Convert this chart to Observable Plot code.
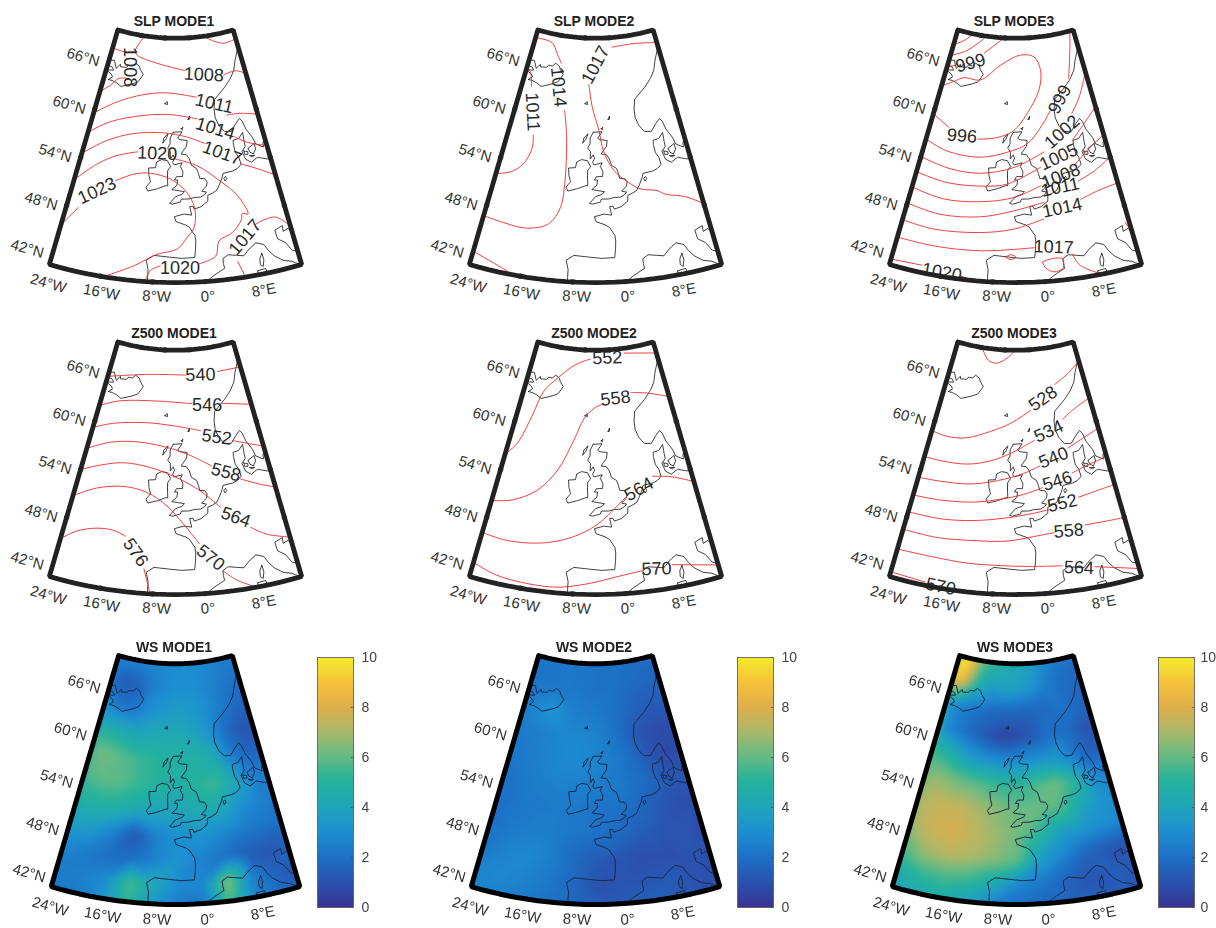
<!DOCTYPE html>
<html><head><meta charset="utf-8">
<script src="https://cdn.jsdelivr.net/npm/d3@7"></script>
<script src="https://cdn.jsdelivr.net/npm/@observablehq/plot@0.6"></script>
<style>
html,body{margin:0;padding:0;background:#fff;overflow:hidden;width:1216px;height:928px}
#root{position:relative;width:1216px;height:928px;overflow:hidden}
#root>div{position:absolute}
#root svg{display:block;overflow:visible;background:transparent;max-width:none!important}
.soft svg{filter:blur(.45px)}
</style></head><body><div id="root"></div>
<script>
// ---------- geography (lon, lat) ----------
const coastIceland=[[-22.7,63.85],[-21.5,63.85],[-20.3,63.7],[-19,63.4],[-17.5,63.7],[-16,64],[-14.8,64.3],[-14,64.9],[-13.6,65.3],[-14.6,65.8],[-15,66.2],[-16.2,66.5],[-17,66.1],[-18.2,66.1],[-18.6,65.8],[-20.3,65.7],[-20.5,66],[-21.4,65.4],[-22.5,66.3],[-23.3,66.2],[-24.5,65.6],[-22.5,65.4],[-22,65.1],[-24,64.9],[-22.4,64.6],[-21.8,64.3],[-22.7,63.85]];
const coastFaroe=[[-7.2,62],[-6.6,62.25],[-6.5,61.9],[-7.2,62]];
const coastShetland=[[-1.5,60.1],[-1.1,60.5],[-1.2,60.1],[-1.5,60.1]];
const coastOrkney=[[-3.2,59],[-2.8,59.2],[-2.9,58.9],[-3.2,59]];
const coastLewis=[[-7.3,57.3],[-7.1,57.9],[-6.2,58.4],[-6.6,57.8],[-7.3,57.3]];
const coastBritain=[[-5,58.6],[-3,58.65],[-4,57.9],[-3.5,57.7],[-1.9,57.6],[-2.1,56.9],[-2.8,56.4],[-3.3,56],[-2.2,55.9],[-1.6,55.4],[-1.2,54.6],[-0.2,54.2],[0.1,53.6],[0.3,53],[1.3,52.9],[1.7,52.5],[1.5,52],[0.9,51.7],[0.5,51.45],[1.4,51.3],[1,51],[0.2,50.75],[-1,50.75],[-2,50.6],[-3.4,50.6],[-3.6,50.25],[-5.1,50],[-5.6,50.1],[-4.5,50.9],[-3.2,51.2],[-2.8,51.5],[-3.8,51.6],[-5.2,51.75],[-4.2,52.3],[-4.1,52.9],[-4.7,52.9],[-4.3,53.3],[-3.1,53.3],[-3,53.9],[-3.5,54.5],[-3.1,54.95],[-4.8,54.7],[-5.1,55],[-4.7,55.5],[-5,55.9],[-5.6,55.4],[-5.6,56.3],[-6.2,56.7],[-5.7,57.2],[-5.7,57.9],[-5,58.6]];
const coastIreland=[[-6.1,53.3],[-6,52.2],[-6.4,52.2],[-8,51.8],[-9.8,51.45],[-10.2,51.9],[-9.4,52.6],[-9.8,53.3],[-10,54.2],[-8.6,54.3],[-8.4,55],[-7.4,55.3],[-6.2,55.2],[-5.5,54.5],[-6.1,54],[-6.1,53.3]];
const coastNorway=[[15.5,69],[14.5,67.5],[13,66.3],[12,65.2],[10.5,64.3],[8.5,63.4],[5.5,62.2],[5,61],[5,60],[5.6,59],[6.7,58.2],[8.2,58.1],[9.5,58.9],[10.6,59.4],[11.1,59],[11.5,58],[12.5,56.8],[12.8,56],[14.2,55.4],[14.4,56],[16,56.3]];
const coastAtlantic=[[16.5,54.5],[14.3,53.9],[12.5,54.4],[11,54],[10,54.5],[9.8,55],[9.6,55.5],[10.5,56],[10.5,56.6],[10.6,57.7],[9.5,57.1],[8.2,57],[8.1,56.5],[8.2,55.5],[8.7,54.9],[8.9,54],[8,53.6],[7,53.4],[5,53.3],[4.7,52.8],[4,52],[3.4,51.4],[2.5,51.1],[1.6,50.9],[1.5,50.2],[0.2,49.6],[-1.1,49.35],[-1.3,49.7],[-1.9,49.7],[-1.6,48.65],[-3,48.8],[-4.7,48.5],[-4.4,47.9],[-2.8,47.5],[-2.1,47.2],[-1.2,46.2],[-1.1,45.5],[-1.2,44.5],[-1.4,43.5],[-3.5,43.45],[-5.5,43.6],[-8,43.75],[-9.2,43.1],[-8.8,42],[-8.8,41],[-8.8,40]];
const coastFunen=[[10,55.5],[10.8,55.3],[10.7,55],[10,55.1],[10,55.5]];
const coastZealand=[[11,55.7],[12.5,56.1],[12.5,55.4],[11.8,54.9],[11.2,55.2],[11,55.7]];
const coastLolland=[[11,54.8],[12,54.7],[11.5,54.6],[11,54.8]];
const coastIjssel=[[5.2,52.4],[5.6,52.6],[5.4,52.9],[5,52.7],[5.2,52.4]];
const coastMed=[[-0.3,39.7],[0.6,40.7],[1.5,41.2],[3.2,41.9],[3.1,42.5],[3.1,43.1],[4,43.5],[5.3,43.3],[6.5,43.1],[7.5,43.8],[8.8,44.4],[10,44],[10.5,43.2],[11.2,42.4],[12.4,41.6],[13.7,41.2],[14.5,40.7],[15.5,40.1]];
const coastAdriatic=[[16,41.8],[14.2,42.5],[13.5,43.6],[12.4,44.3],[12.3,45.4],[13.7,45.7],[13.6,45],[14.5,45.2],[15,44.5],[16,43.5]];
const coastCorsica=[[9.4,43],[9.5,42.2],[9.2,41.4],[8.8,41.7],[8.9,42.4],[9.4,43]];
const coastSardinia=[[8.2,41],[9.5,41.1],[9.7,40],[9.5,39.2],[8.5,39],[8.2,41]];
const coasts=[coastIceland,coastFaroe,coastShetland,coastOrkney,coastLewis,coastBritain,coastIreland,coastNorway,coastAtlantic,coastFunen,coastZealand,coastLolland,coastIjssel,coastMed,coastAdriatic,coastCorsica,coastSardinia];

// ---------- contour segments and their inline labels [text, lon, lat, rotation] ----------
const slp1Lines=[
[[5.2,69.9],[8,69.2],[11,68.7],[14.9,68.85]],
[[-15.1,69.8],[-17,68],[-16.2,67.5],[-10.9,66.9],[-1.9,66]],
[[8.9,64.9],[12.4,65.1],[14.8,64.5]],
[[-24.1,67.7],[-19.5,67.6],[-17.4,67.9]],
[[-24.5,61.9],[-21.7,63.3],[-20,64.3],[-17.4,64.5]],
[[-24,59.5],[-19.1,61.5],[-12.7,62.9],[-6.7,63.3],[0.9,62.7]],
[[7.9,60.1],[10.9,60],[14.8,59.4]],
[[-24,57.1],[-19.7,59],[-12.2,60.4],[-5.7,60.7],[0.7,60.1]],
[[8.6,57.4],[11.2,56.4],[14.8,55.5]],
[[-24,54.5],[-19.6,56.7],[-14,58.1],[-7.2,58.5],[-1.9,58],[1.9,57.1]],
[[8.8,54.1],[12.1,53],[15,51.8]],
[[-24,51.2],[-20.3,53.8],[-16.8,55.2],[-12.6,56]],
[[-4.5,55.4],[0,54.5],[4.3,52.4],[7.1,50.4],[8.4,48],[7.4,48.2],[7.1,47.5],[5.2,46.1],[2.8,45.3],[2,43.5],[-0.8,42.7]],
[[-6.9,42.5],[-8.4,41.9],[-9.2,40.4]],
[[-24,45.6],[-21.9,48.1]],
[[-16.2,52.2],[-12.8,53.3],[-9.5,53.6],[-5.5,53],[-2.6,51.6],[-1,49.5],[-1.3,47.1],[-2.5,46],[-4.2,44.6],[-7.5,43.9],[-11.1,42.3],[-15.8,40.4]],
[[9.3,46.6],[10.8,46.9],[13,46.9],[14.9,45.5]],
[[5.4,42.5],[6.2,40.5]]];
const slp1Labels=[["1008",3.5,65.3,3],["1008",-17.7,65.9,90],["1011",5.2,61.7,13],["1014",4.7,58.7,17],["1017",5.4,55.7,20],["1020",-8.4,56,2],["1020",-3.8,42.3,0],["1023",-19.3,50.6,-25],["1017",7.2,45.3,-50]];
const slp2Lines=[
[[14.8,68.4],[7.9,68.9],[0.8,68.8]],
[[-6.3,64.3],[-5.3,61.6],[-3.7,58.8],[-2.8,56.4],[-0.8,54],[2,52.4],[4.1,51.5],[7.2,51],[8.6,50.4],[12.1,49.6],[15,48.2]],
[[-24.1,69],[-18.5,68.9],[-16.3,67.7],[-14.6,66.6]],
[[-12.1,61],[-11,57.9],[-10.5,52.2],[-10.9,49.4],[-12.7,47.3],[-16.3,46.4],[-20.4,46.5],[-24.1,46.7]],
[[-24.4,65.4],[-22.7,64.8],[-21.4,63.1]],
[[-18.4,57.5],[-18.1,56],[-19.2,53.9],[-21.4,52.6],[-24,52]],
[[-24,42.2],[-20.3,41.4],[-17,40.5]]];
const slp2Labels=[["1017",-4.5,66.7,-62],["1014",-14.4,63.7,85],["1011",-19.7,60.2,87]];
const slp3Lines=[
[[-24.4,68],[-21.2,68.9],[-19.1,69.8]],
[[-24,66.7],[-19.6,67.8],[-15,69.6]],
[[-24,65.3],[-22,65.7]],
[[-14.1,67.9],[-8.9,69.8]],
[[-24,62.9],[-21.1,63.8],[-18.8,64.5],[-14.1,64.6],[-8.9,66.6],[-3,67.9],[1.1,67.6],[2.7,65.9],[1.7,63.5],[-1.7,60.8],[-4.9,58.8],[-8.6,57.9],[-12.9,57.5]],
[[-19.7,58.3],[-24,59.4]],
[[-24.1,56.3],[-19.1,55.5],[-11.9,55.4],[-6.3,56.2],[-1.9,57.2],[1.7,59.3],[4.1,61]],
[[10.1,64.4],[12.3,67.7],[13.7,69.8]],
[[-24.1,54.1],[-17.7,53.5],[-11.5,53.5],[-4.8,54.4],[1.6,56.1]],
[[9.1,60.2],[11.7,61.9],[14.8,64.5]],
[[-24,52.2],[-17.8,51.8],[-10.6,52],[-6.1,52.4],[0.6,54.3]],
[[8,57],[11.4,58.7],[15,60.3]],
[[-24,50.3],[-17.8,49.8],[-11,50.1],[-4.8,50.8],[0.35,52.1]],
[[7.4,54],[11.6,55.8],[15,56.8]],
[[-24,48.3],[-17.9,47.9],[-10.7,48.3],[-4.8,49.2],[0.8,50.1]],
[[7.7,52.1],[11.2,52.9],[14.8,54]],
[[-24,46.2],[-18.5,46],[-10.5,46.4],[-4.8,47],[0.5,48.1]],
[[7.6,49.9],[11,50.5],[14.8,50.8]],
[[-24,44],[-17.9,44],[-10.2,44.2],[-1.4,44.7]],
[[4.7,43.5],[5.7,42],[8.6,40.6]],
[[-0.2,42.9],[1.1,43.2],[3,43.1],[3,42],[1.5,41.6],[0.2,42.2],[-0.2,42.9]],
[[-6.1,43.6],[-5.3,43.9],[-4.4,43.6],[-5.3,43.3],[-6.1,43.6]],
[[14.3,46],[14.9,44.8]],
[[-24,41.2],[-19.1,41.4]],
[[-13,40.9],[-10.7,40.5]]];
const slp3Labels=[["999",-17.7,66.4,-15],["996",-16.5,57.6,5],["999",6.8,62.1,-62],["1002",6.1,58.2,-42],["1005",4.6,55.3,-25],["1008",4.5,53,-22],["1011",4.1,51.7,-12],["1014",4,49.2,-12],["1017",1.8,44.6,2],["1020",-15.9,41,10]];
const z1Lines=[
[[-24,65.6],[-12.9,66.8],[-1.5,66.9]],
[[8,66.9],[14.9,66.8]],
[[-24.1,61.9],[-19.1,63.1],[-9.4,63.7],[-0.1,63.4]],
[[7.8,63],[14.9,62.1]],
[[-24,59.2],[-19.5,60.3],[-11.5,61],[-4.9,60.8],[1.5,60.1]],
[[8.5,58.4],[11.7,57.7],[14.9,56.9]],
[[-24,56.6],[-19.3,58],[-13.3,58.6],[-7.2,58.3],[-1.9,57.4],[3.1,55.8]],
[[8.7,53.7],[11.9,52.7],[14.9,51.8]],
[[-24.2,53.9],[-20.2,55.1],[-15.5,55.9],[-9.8,55.7],[-4.2,54.6],[0.45,52.9],[4,50.7]],
[[8.8,47.8],[11.2,46.6],[15,45.5]],
[[-24,50.7],[-20,52.3],[-14.8,53.1],[-10.1,52.7],[-6.1,51.2],[-3,49],[-0.4,46.6]],
[[3.1,43.1],[5.2,41.7],[8.2,40.4]],
[[-24,45.3],[-21.7,46.7],[-18.4,47.6],[-15.4,47.7],[-13.2,47.2]],
[[-9.6,43.5],[-8.3,40.3]]];
const z1Labels=[["540",2.9,66.8,-2],["546",3.8,63.1,0],["552",5.1,59.1,8],["558",6,54.8,15],["564",6.5,49.3,20],["570",1.3,44.8,38],["576",-11.2,45.4,55]];
const z2Lines=[
[[-24.2,55.7],[-22.1,57.5],[-20.3,61],[-18.7,64.3],[-15.7,66.1],[-10.7,68.1],[-6.1,68.9]],
[[4.8,69.4],[14.8,68.6]],
[[-24,50.1],[-20.3,50.8],[-16,52.5],[-12.5,55.2],[-9.5,59],[-7.4,61.6],[-4.9,62.9],[-2.7,63.4]],
[[5.3,64.5],[9.6,64.1],[14.8,63.1]],
[[-24,46.1],[-19.6,45.9],[-14,46.3],[-8.9,47.3],[-4.2,49],[1.3,52.1]],
[[7.2,54.2],[10.9,53.7],[14.9,52.5]],
[[-24,42.3],[-20,41.5],[-15.1,41.2],[-10.4,41.2],[-5.8,41.8],[-0.5,42.7],[3,43.1]],
[[7.9,43.3],[14.9,42]]];
const z2Labels=[["552",-0.7,69,-2],["558",0.9,64,-7],["564",4.1,52.9,-30],["570",5.3,43.1,-2]];
const z3Lines=[
[[-15.3,69.7],[-12.9,68.5],[-10.3,68.3],[-7.2,69],[-5,69.8]],
[[-24,58.8],[-20.2,58.6],[-15.8,58.9],[-10.5,60],[-5.7,61.1],[-0.6,62.6]],
[[6.6,65.4],[10.9,66.4],[14.8,67.5]],
[[-24,55.6],[-20.4,55.6],[-14.8,55.8],[-9.9,56.5],[-5.6,57.5],[-0.1,59]],
[[7.1,61.1],[10.6,62.1],[14.9,62.9]],
[[-24.1,53],[-19.6,53.2],[-13.6,53.5],[-8.2,54.2],[-2.8,55.1],[0.6,55.9]],
[[7.2,57.6],[10.9,58.4],[14.9,59.1]],
[[-24,50.8],[-18.8,51],[-12.5,51.4],[-7.4,52],[-2.9,52.6],[0.9,53.3]],
[[7.2,54.6],[11.1,55.2],[14.9,55.6]],
[[-24.1,48.7],[-18.1,48.8],[-12.1,49.2],[-6,49.8],[-1.1,50.3],[1.6,50.6]],
[[7.6,51.6],[10.9,51.9],[14.7,52.1]],
[[-24,46.5],[-18.1,46.5],[-11.7,46.8],[-5.9,47],[-1.3,47.5],[2.3,47.8]],
[[7.9,48.2],[12.1,48.1],[14.9,48]],
[[-24,44],[-17.9,44.1],[-12.4,44],[-7,44],[-2.1,43.9],[3.1,43.7]],
[[8.3,43],[14.7,41.6]],
[[-24,41.1],[-18.5,40.9]],
[[-13.4,40.6],[-11.5,40.4]]];
const z3Labels=[["528",2.9,63.9,-35],["534",3.4,59.9,-25],["540",3.8,56.7,-22],["546",4,53.9,-17],["552",4.4,51.2,-13],["558",4.9,47.8,-5],["564",5.7,43.2,2],["570",-16,40.7,12]];

// ---------- wind speed readings on a lon/lat grid (rows north to south) ----------
const gridLons=[-24,-20,-16,-12,-8,-4,0,4,8,12,16];
const gridLats=[70,67,64,61,58,55,52,49,46,43,40];
const ws1=[
[2.6,2.6,2.6,2.6,2.8,2.9,2.9,2.8,2.6,2.5,2.4],
[1.8,1.3,1.5,2.3,2.8,3,3,2.8,2.5,2.2,2.1],
[3,2.2,2.2,3,3.4,3.6,3.4,3,2.4,1.8,1.7],
[4.9,4.5,4.2,4.2,4.4,4.4,4,3.3,1.9,1.1,1.4],
[6,6.2,5.8,5.3,5,5,4.9,4.5,2.6,1.7,1.7],
[5.7,6,5.9,5.3,5,4.7,5.1,5.4,4.2,2.6,2.5],
[5,4.9,4.8,4.3,4,4,4.4,4.3,3.2,2.6,2.4],
[3.8,3.6,2.7,1.3,2.6,3.1,3.3,2.8,2.4,2.2,2.1],
[2.9,2.4,2,1.9,2.6,3.2,2.6,2.1,1.4,1.2,1.7],
[2.4,2.5,2.9,5.6,4.2,2.8,2.8,6.6,2.6,1.5,1],
[2.3,2.4,3.2,5.4,3.4,2.3,2.2,5.8,2.6,2,1.6]];
const ws2=[
[2.2,2.2,2.2,2.2,2.2,2.1,2.1,2.1,1.9,1.9,1.9],
[2.2,2.2,2.2,2.3,2.2,2.1,2.1,1.9,1.8,1.7,1.7],
[2.4,2.8,3.2,2.6,2.4,2.3,2.1,1.8,1.4,1.3,1.4],
[2.4,2.5,2.6,2.8,2.8,2.6,2.2,1.5,0.9,0.8,1],
[2.2,2.4,2.6,2.8,2.8,2.7,2.4,1.9,1.1,0.7,0.9],
[2,2.3,2.5,2.6,2.6,2.4,2.3,2.1,1.6,1.1,1.3],
[2,2.2,2.3,2.4,2.3,2.1,2.1,1.8,1.3,0.9,0.9],
[2,2.3,2.5,2.4,2.2,2.1,1.8,1.4,1.1,1.1,0.7],
[2.2,2.6,2.8,2.5,1.8,1.3,1.1,0.9,0.9,1.1,0.9],
[2.6,2.8,2.6,2.3,1.7,1,1.1,1.2,1.3,1,0.9],
[2.6,2.6,2.3,2,1.8,1.5,1.3,1.5,1.3,1,0.9]];
const ws3=[
[10,9.6,6.2,5,4.5,4.2,3.8,2.9,2.4,2.1,2],
[9.6,7.6,4.6,3.6,3.9,3.8,3.2,2.5,2,1.8,1.7],
[3.5,2.6,2.2,1.9,1.8,1.7,1.7,1.8,2.2,1.8,1.6],
[3.4,2.4,1.8,1.2,0.5,0.8,1.4,2.1,1.9,1.2,1.1],
[5.2,4.8,3.8,3.2,3,3,3.2,3.4,2.6,1.4,1.5],
[6.4,6.6,6.1,5.8,5.3,5.3,5.8,6.2,5,3,2.5],
[7,7.5,7.5,7,6.5,6.2,6.1,5.8,4.2,3.3,2.9],
[7,7.7,7.9,7.4,6.8,6.2,5,3.6,3.2,3,2.7],
[5.9,7,7.3,7,6.5,5.9,3.5,2.5,1.6,1.1,1],
[4.6,5.3,5.5,5.2,4.2,2.7,2.2,1.5,1.1,1.4,1.1],
[3.8,4.2,4.2,3.6,2.3,1.9,1.5,1.6,1.6,1.4,1.2]];

// ---------- axes ----------
const latTicks=[66,60,54,48,42];
const lonTicks=[[-24,"24°W"],[-16,"16°W"],[-8,"8°W"],[0,"0°"],[8,"8°E"]];
const colorTicks=[0,2,4,6,8,10];
const colorStops=[0,1,2,3,4,5,6,7,8,9,10];
const colorRange=["#3a3392","#2a52ae","#1d6fc6","#1d8fd2","#20a5bb","#22b29d","#62ba85","#a8b86a","#dfae4c","#f6c13a","#f2ea2c"];

const west=-24,east=15,north=70,south=40.5,midLon=-4.5;
const ringLons=d3.range(west,east+.01,1.5);
const sector={type:"Polygon",coordinates:[[...ringLons.map(l=>[l,north]),...d3.range(north,south,-2).map(l=>[east,l]),...[...ringLons].reverse().map(l=>[l,south]),...d3.range(south,north,2).map(l=>[west,l]),[west,north]]]};
const outline={type:"LineString",coordinates:sector.coordinates[0]};

const root=document.getElementById("root");
const font="Liberation Sans, Helvetica, Arial, sans-serif";
const flat=lines=>lines.flatMap((pts,id)=>pts.map(([lon,lat])=>({lon,lat,id})));

function panel({title,left,top,k,ty,lines,labels,wind}){
  const projection=d3.geoConicEqualArea().parallels([56.6,56.6]).rotate([-midLon,0]).center([0,0]).scale(k).translate([175,ty]);
  const marks=[];
  if(wind){
    const pts=wind.flatMap((r,i)=>r.map((v,j)=>({lon:gridLons[j],lat:gridLats[i],v})));
    marks.push(Plot.raster(pts,{x:"lon",y:"lat",fill:"v",interpolate:"barycentric",pixelSize:1,blur:3,clip:sector}));
  }
  marks.push(Plot.line(flat(coasts),{x:"lon",y:"lat",z:"id",stroke:wind?"#1b2a4a":"#111",strokeWidth:wind?1:.8,curve:"linear",clip:sector}));
  if(lines) marks.push(Plot.line(flat(lines),{x:"lon",y:"lat",z:"id",stroke:"#ee2b2b",strokeWidth:.9,curve:"catmull-rom",clip:sector}));
  if(labels) marks.push(Plot.text(labels,{x:d=>d[1],y:d=>d[2],text:d=>d[0],rotate:d=>d[3],fontSize:18,fontFamily:font,fill:"#2a2a2a"}));
  marks.push(Plot.geo(outline,{stroke:wind?"#000":"#222",strokeWidth:wind?5:4.8,strokeLinejoin:"miter"}));
  if(!wind){
    marks.push(Plot.dot([...[-16,-8,0].map(l=>[l,north]),...[-16,-8,0].map(l=>[l,south]),...[60,54,48].flatMap(l=>[[east,l],[west,l]])],{x:d=>d[0],y:d=>d[1],r:2.6,fill:"#222"}));
  }
  const w=wind?1:0;
  marks.push(Plot.text([title],{x:()=>midLon,y:()=>north,text:d=>d,dx:-1.5,dy:-16.5,fontSize:14,fontWeight:"bold",fontFamily:font,fill:"#222"}));
  marks.push(Plot.text(latTicks,{x:()=>west,y:d=>d,text:d=>`${d}°N`,dx:-25.5,dy:wind?-2:-4,rotate:16,fontSize:15,fontFamily:font,fill:"#333"}));
  const tickStyle=[{dx:-1,dy:19,rotate:16},{dx:1,dy:16,rotate:10},{dx:4,dy:14.5,rotate:3},{dx:3,dy:15,rotate:-3},{dx:7,dy:15,rotate:-10}];
  lonTicks.forEach(([lon,text],i)=>{
    const s=tickStyle[i];
    marks.push(Plot.text([text],{x:()=>lon,y:()=>south,text:d=>d,dx:s.dx,dy:s.dy+w,rotate:s.rotate,fontSize:15,fontFamily:font,fill:"#333"}));
  });
  const fig=Plot.plot({width:340,height:310,margin:0,projection,
    color:{type:"linear",domain:colorStops,range:colorRange,interpolate:"rgb",clamp:true},
    style:{background:"transparent"},marks});
  const d=document.createElement("div");
  d.style.left=left+"px";d.style.top=top+"px";
  if(wind) d.className="soft";
  d.appendChild(fig);root.appendChild(d);
}
function colorbar(left,top,tickPadding){
  const fig=Plot.plot({width:70,height:252,marginTop:1,marginBottom:1,marginLeft:0,marginRight:34,
    x:{domain:[0,1],axis:null},
    y:{domain:[0,10],axis:null},
    color:{type:"linear",domain:colorStops,range:colorRange,interpolate:"rgb"},
    style:{background:"transparent"},
    marks:[
      Plot.raster({x1:0,x2:1,y1:0,y2:10,pixelSize:1,fill:(x,y)=>y}),
      Plot.ruleY(colorTicks,{x1:.94,x2:1,stroke:"#444",strokeWidth:.7}),
      Plot.frame({stroke:"#555",strokeWidth:.8}),
      Plot.axisY(colorTicks,{anchor:"right",tickSize:0,tickPadding,fontSize:14,fontFamily:font,color:"#444",label:null})
    ]});
  const d=document.createElement("div");
  d.style.left=left+"px";d.style.top=top+"px";d.className="soft";
  d.appendChild(fig);root.appendChild(d);
}
const rows=[{top:0,k:480,ty:581},{top:312,k:480,ty:581},{top:625,k:473,ty:573.6}];
const cols=[0,420,840];
[["SLP MODE1",slp1Lines,slp1Labels],["SLP MODE2",slp2Lines,slp2Labels],["SLP MODE3",slp3Lines,slp3Labels]].forEach(([t,l,b],i)=>panel({title:t,left:cols[i],...rows[0],lines:l,labels:b}));
[["Z500 MODE1",z1Lines,z1Labels],["Z500 MODE2",z2Lines,z2Labels],["Z500 MODE3",z3Lines,z3Labels]].forEach(([t,l,b],i)=>panel({title:t,left:cols[i],...rows[1],lines:l,labels:b}));
[["WS MODE1",ws1],["WS MODE2",ws2],["WS MODE3",ws3]].forEach(([t,g],i)=>panel({title:t,left:cols[i]+(i==2?.5:0),...rows[2],wind:g}));
colorbar(317,656,8);colorbar(737,656,8);colorbar(1158,656,6);
</script></body></html>
